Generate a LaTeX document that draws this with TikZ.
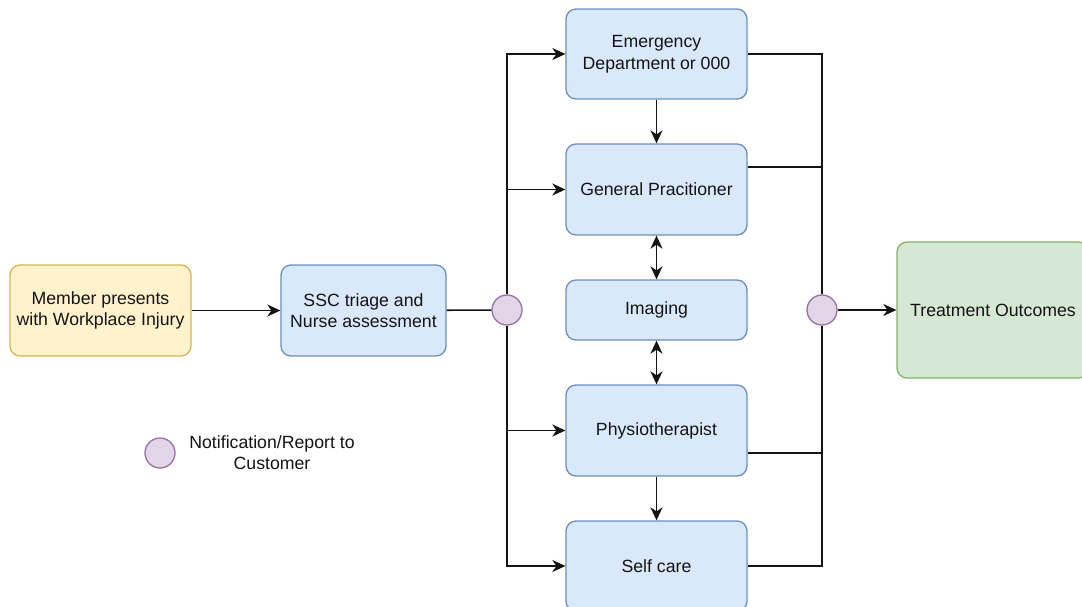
\documentclass[tikz,border=0pt]{standalone}
\usepackage{fontspec}
\setmainfont{Liberation Sans}
\usetikzlibrary{arrows.meta,calc}
\definecolor{bluefill}{HTML}{DAE8FC}
\definecolor{bluedraw}{HTML}{6C8EBF}
\definecolor{yelfill}{HTML}{FFF2CC}
\definecolor{yeldraw}{HTML}{D6B656}
\definecolor{grnfill}{HTML}{D5E8D4}
\definecolor{grndraw}{HTML}{82B366}
\definecolor{purfill}{HTML}{E1D5E7}
\definecolor{purdraw}{HTML}{9673A6}
\tikzset{
  box/.style={rectangle, rounded corners=10pt, line width=1.3pt, align=center,
    inner sep=0pt, font=\fontsize{17.7}{21.5}\selectfont, text=black!92},
  bluebox/.style={box, fill=bluefill, draw=bluedraw},
  yelbox/.style={box, fill=yelfill, draw=yeldraw},
  grnbox/.style={box, fill=grnfill, draw=grndraw},
  notif/.style={circle, minimum size=30pt, inner sep=0pt, line width=1.3pt,
    fill=purfill, draw=purdraw},
  link/.style={line width=1.6pt, black!92},
  tip/.tip={Stealth[length=13pt,width=12pt,inset=4pt]},
  arr/.style={link, -tip},
  darr/.style={link, tip-tip},
}
\begin{document}
\begin{tikzpicture}[x=1pt,y=-1pt]
\useasboundingbox (0,0) rectangle (1082,606);
\fill[white] (0,0) rectangle (1082,606);

% process boxes
\node[yelbox, minimum width=181pt, minimum height=91pt] (mem) at (100.5,310.5) {Member presents\\with Workplace Injury};
\node[bluebox, minimum width=165pt, minimum height=91pt] (ssc) at (363.5,310.5) {SSC triage and\\Nurse assessment};
\node[bluebox, minimum width=181pt, minimum height=90pt] (em) at (656.5,54) {Emergency\\Department or 000};
\node[bluebox, minimum width=181pt, minimum height=91pt] (gp) at (656.5,189.5) {General Pracitioner};
\node[bluebox, minimum width=181pt, minimum height=60pt] (im) at (656.5,310) {Imaging};
\node[bluebox, minimum width=181pt, minimum height=91pt] (ph) at (656.5,430.5) {Physiotherapist};
\node[bluebox, minimum width=181pt, minimum height=90pt] (sc) at (656.5,566) {Self care};
\node[grnbox, minimum width=192pt, minimum height=136pt] (tr) at (993,310) {Treatment Outcomes};

% notification points
\node[notif] (n1) at (507,310) {};
\node[notif] (n2) at (822,310) {};

% legend
\node[notif] (lg) at (160,453) {};
\node[align=center, font=\fontsize{17.7}{21.5}\selectfont, text=black!92] (lgt) at (272,452.5) {Notification/Report to\\Customer};

% flow into triage and out to the first notification
\draw[arr] (mem) -- (ssc);
\draw[link] (ssc) -- (n1);

% distribution to care options
\draw[arr] (n1.north) |- (em.west);
\draw[arr] (n1.north) |- (gp.west);
\draw[arr] (n1.south) |- (ph.west);
\draw[arr] (n1.south) |- (sc.west);

% links between care options
\draw[arr] (em) -- (gp);
\draw[darr] (gp) -- (im);
\draw[darr] (im) -- (ph);
\draw[arr] (ph) -- (sc);

% collection into the second notification
\coordinate (gpo) at ([yshift=22.5pt]gp.east);
\coordinate (pho) at ([yshift=-22.5pt]ph.east);
\draw[link] (em.east) -| (n2.north);
\draw[link] (sc.east) -| (n2.south);
\draw[link] (gpo) -- (gpo -| n2);
\draw[link] (pho) -- (pho -| n2);
\draw[arr] (n2) -- (tr);
\end{tikzpicture}
\end{document}
